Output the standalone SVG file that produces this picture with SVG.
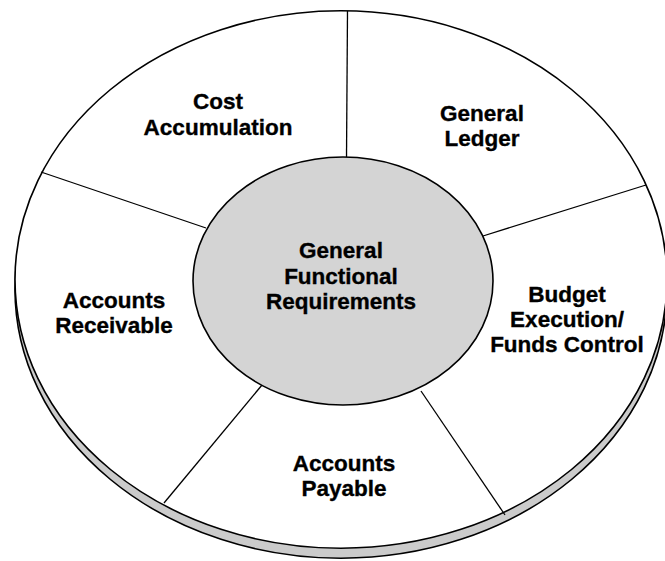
<svg xmlns="http://www.w3.org/2000/svg" width="665" height="561" viewBox="0 0 665 561">
  <style>
    .lbl { font-family: "Liberation Sans", Arial, Helvetica, sans-serif; font-weight: bold; font-size: 22.5px; fill: #000; stroke: #000; stroke-width: 0.35; text-anchor: middle; }
    .edge { stroke: #000; stroke-width: 1.3; fill: none; }
    .rim { fill: #cbcbcb; stroke: #000; stroke-width: 1.6; }
    .face { fill: #fff; stroke: #000; stroke-width: 1.6; }
    .hub { fill: #d4d4d4; stroke: #000; stroke-width: 1.6; }
  </style>
  <rect width="665" height="561" fill="#fff"/>
  <g id="disc">
    <ellipse class="rim" cx="341" cy="289.5" rx="326" ry="268.7"/>
    <ellipse class="face" cx="341" cy="279.5" rx="326" ry="268.7"/>
  </g>
  <g id="connectors">
    <line class="edge" x1="347.5" y1="11" x2="346.5" y2="157"/>
    <line class="edge" x1="41" y1="172" x2="206" y2="228"/>
    <line class="edge" x1="646" y1="185" x2="483" y2="236"/>
    <line class="edge" x1="164" y1="503" x2="262" y2="385"/>
    <line class="edge" x1="505" y1="515" x2="421" y2="391"/>
  </g>
  <g id="cost-accumulation">
    <text class="lbl" x="218" y="109">Cost</text>
    <text class="lbl" x="218" y="135">Accumulation</text>
  </g>
  <g id="general-ledger">
    <text class="lbl" x="482" y="121">General</text>
    <text class="lbl" x="482" y="146">Ledger</text>
  </g>
  <g id="budget-execution">
    <text class="lbl" x="567" y="302">Budget</text>
    <text class="lbl" x="567" y="327">Execution/</text>
    <text class="lbl" x="567" y="352">Funds Control</text>
  </g>
  <g id="accounts-payable">
    <text class="lbl" x="344" y="471">Accounts</text>
    <text class="lbl" x="344" y="496">Payable</text>
  </g>
  <g id="accounts-receivable">
    <text class="lbl" x="114" y="308">Accounts</text>
    <text class="lbl" x="114" y="333">Receivable</text>
  </g>
  <g id="general-functional-requirements">
    <ellipse class="hub" cx="343" cy="281" rx="150" ry="124"/>
    <text class="lbl" x="341" y="258">General</text>
    <text class="lbl" x="341" y="284">Functional</text>
    <text class="lbl" x="341" y="309">Requirements</text>
  </g>
</svg>
